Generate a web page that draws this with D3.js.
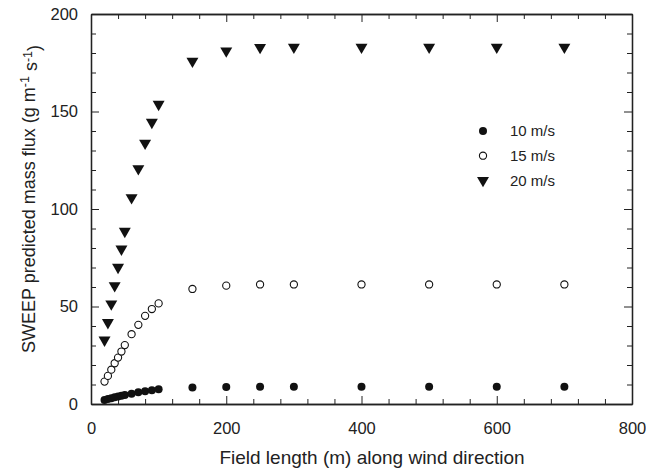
<!DOCTYPE html>
<html>
<head>
<meta charset="utf-8">
<script src="https://cdn.jsdelivr.net/npm/d3@7"></script>
<style>
  body { margin: 0; background: #fff; }
  text { font-family: "Liberation Sans", Arial, sans-serif; fill: #222; }
  .axis path, .axis line { stroke: #222; }
</style>
</head>
<body>
<svg id="chart"></svg>
<script>

// field length (m) along wind direction
var fieldLength = [20, 25, 30, 35, 40, 45, 50, 60, 70, 80, 90, 100, 150, 200, 250, 300, 400, 500, 600, 700];

// predicted mass flux (g m-1 s-1) for each wind speed
var flux10 = [2.1, 2.6, 3.0, 3.4, 3.8, 4.2, 4.6, 5.3, 6.0, 6.6, 7.1, 7.6, 8.4, 8.7, 8.8, 8.8, 8.8, 8.8, 8.8, 8.8];
var flux15 = [11.5, 14.4, 17.6, 20.9, 23.8, 26.9, 30.2, 35.8, 40.6, 45.2, 48.7, 51.6, 59.0, 60.7, 61.3, 61.3, 61.3, 61.3, 61.3, 61.3];
var flux20 = [32.8, 41.8, 51.3, 60.7, 70.1, 79.5, 88.6, 105.8, 120.7, 133.8, 144.5, 153.7, 175.8, 181.1, 182.9, 183.0, 183.0, 183.0, 183.0, 183.0];

var seriesNames = ["10 m/s", "15 m/s", "20 m/s"];

var xTicks = [0, 200, 400, 600, 800];
var yTicks = [0, 50, 100, 150, 200];

var margin = {top: 14, right: 14, bottom: 66, left: 91},
    width = 646 - margin.left - margin.right,
    height = 470 - margin.top - margin.bottom;

var svg = d3.select("#chart")
    .attr("width", 646)
    .attr("height", 470)
  .append("g")
    .attr("transform", "translate(" + margin.left + "," + margin.top + ")");

var x = d3.scaleLinear().domain([0, 800]).range([0, width]);
var y = d3.scaleLinear().domain([0, 200]).range([height, 0]);

var xMinor = d3.range(0, 801, 40).filter(function(v) { return v % 200 != 0; });
var yMinor = d3.range(0, 201, 10).filter(function(v) { return v % 50 != 0; });

// bottom axis with labels
svg.append("g")
    .attr("class", "axis")
    .attr("transform", "translate(0," + height + ")")
    .call(d3.axisBottom(x).tickValues(xTicks).tickSizeInner(-8).tickSizeOuter(0).tickPadding(18))
    .style("font-size", "16.5px");
svg.append("g")
    .attr("class", "axis")
    .attr("transform", "translate(0," + height + ")")
    .call(d3.axisBottom(x).tickValues(xMinor).tickSizeInner(-5).tickSizeOuter(0).tickFormat(""));

// top axis, ticks only
svg.append("g")
    .attr("class", "axis")
    .call(d3.axisTop(x).tickValues(xTicks).tickSizeInner(-8).tickSizeOuter(0).tickFormat(""));
svg.append("g")
    .attr("class", "axis")
    .call(d3.axisTop(x).tickValues(xMinor).tickSizeInner(-5).tickSizeOuter(0).tickFormat(""));

// left axis with labels
svg.append("g")
    .attr("class", "axis")
    .call(d3.axisLeft(y).tickValues(yTicks).tickSizeInner(-8).tickSizeOuter(0).tickPadding(13))
    .style("font-size", "16.5px");
svg.append("g")
    .attr("class", "axis")
    .call(d3.axisLeft(y).tickValues(yMinor).tickSizeInner(-5).tickSizeOuter(0).tickFormat(""));

// right axis, ticks only
svg.append("g")
    .attr("class", "axis")
    .attr("transform", "translate(" + width + ",0)")
    .call(d3.axisRight(y).tickValues(yTicks).tickSizeInner(-8).tickSizeOuter(0).tickFormat(""));
svg.append("g")
    .attr("class", "axis")
    .attr("transform", "translate(" + width + ",0)")
    .call(d3.axisRight(y).tickValues(yMinor).tickSizeInner(-5).tickSizeOuter(0).tickFormat(""));

svg.selectAll(".axis .domain").attr("stroke-width", 1.3);

// axis titles
svg.append("text")
    .attr("x", 281)
    .attr("y", height + 60)
    .style("text-anchor", "middle")
    .style("font-size", "19px")
    .text("Field length (m) along wind direction");

var ylab = svg.append("text")
    .attr("transform", "translate(" + (-56) + "," + (185) + ") rotate(-90)")
    .style("text-anchor", "middle")
    .style("font-size", "18px");
ylab.append("tspan").text("SWEEP predicted mass flux (g m");
ylab.append("tspan").attr("dy", "-0.45em").style("font-size", "12.5px").text("-1");
ylab.append("tspan").attr("dy", "0.45em").text(" s");
ylab.append("tspan").attr("dy", "-0.45em").style("font-size", "12.5px").text("-1");
ylab.append("tspan").attr("dy", "0.45em").text(")");

var tri = d3.symbol().type(d3.symbolTriangle).size(62);

function pts(vals) {
  return fieldLength.map(function(d, i) { return {len: d, flux: vals[i]}; });
}

// 10 m/s filled circles
svg.selectAll(".dot10")
    .data(pts(flux10))
  .enter().append("circle")
    .attr("class", "dot10")
    .attr("r", 4)
    .attr("cx", function(d) { return x(d.len); })
    .attr("cy", function(d) { return y(d.flux); })
    .style("fill", "#111");

// 15 m/s open circles
svg.selectAll(".dot15")
    .data(pts(flux15))
  .enter().append("circle")
    .attr("class", "dot15")
    .attr("r", 3.6)
    .attr("cx", function(d) { return x(d.len); })
    .attr("cy", function(d) { return y(d.flux); })
    .style("fill", "#fff")
    .style("stroke", "#111")
    .style("stroke-width", 1.1);

// 20 m/s down triangles
svg.selectAll(".dot20")
    .data(pts(flux20))
  .enter().append("path")
    .attr("class", "dot20")
    .attr("d", tri)
    .attr("transform", function(d) { return "translate(" + x(d.len) + "," + y(d.flux) + ") rotate(180)"; })
    .style("fill", "#111");

// legend
var lg = svg.append("g").attr("transform", "translate(" + (483 - margin.left) + "," + (131 - margin.top) + ")");
seriesNames.forEach(function(name, i) {
  var row = lg.append("g").attr("transform", "translate(0," + (i * 24.7) + ")");
  if (i == 0) row.append("circle").attr("r", 4).style("fill", "#111");
  if (i == 1) row.append("circle").attr("r", 3.6).style("fill", "#fff").style("stroke", "#111").style("stroke-width", 1.1);
  if (i == 2) row.append("path").attr("d", tri).attr("transform", "rotate(180)").style("fill", "#111");
  row.append("text").attr("x", 27).attr("y", 0).attr("dy", "0.35em").style("font-size", "15px").text(name);
});

</script>
</body>
</html>
